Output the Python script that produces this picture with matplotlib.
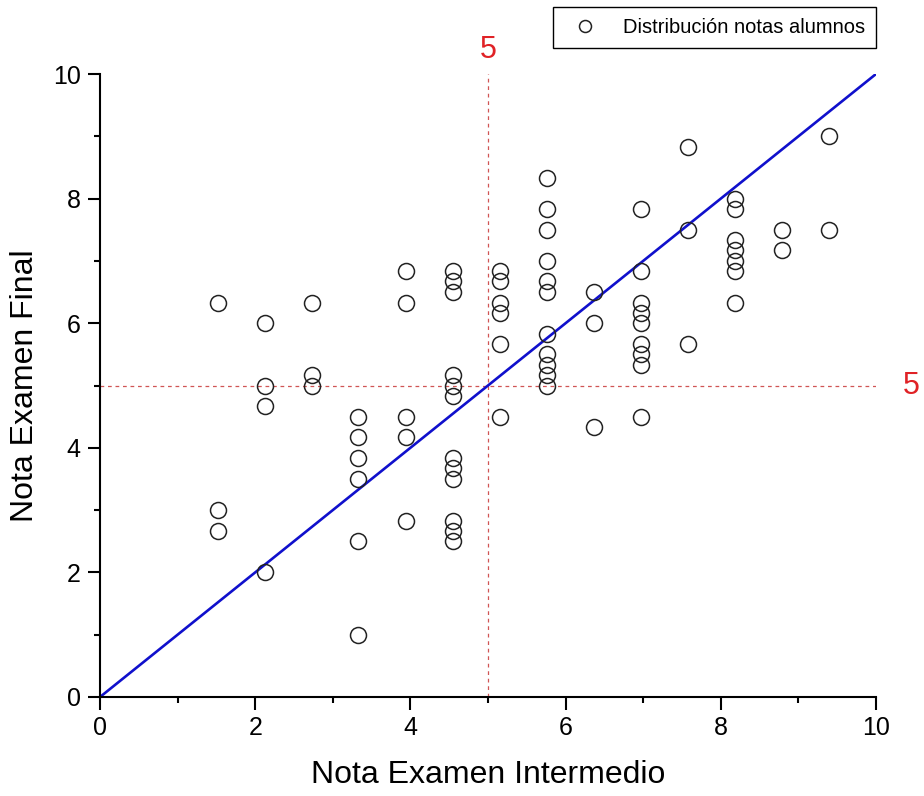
import matplotlib
matplotlib.use("Agg")
import matplotlib.pyplot as plt
from matplotlib.ticker import MultipleLocator

plt.rcParams['font.family'] = ['Liberation Sans', 'DejaVu Sans']

# notas examen intermedio (columnas) y notas finales de cada alumno
col_x = [1.52, 2.12, 2.73, 3.33, 3.94, 4.55, 5.15, 5.76, 6.36, 6.97, 7.58, 8.18, 8.79, 9.39]
col_y = [
    [6.33, 3.0, 2.67],
    [6.0, 5.0, 4.67, 2.0],
    [6.33, 5.17, 5.0],
    [4.5, 4.17, 3.83, 3.5, 2.5, 1.0],
    [6.83, 6.33, 4.5, 4.17, 2.83],
    [6.83, 6.67, 6.5, 5.17, 5.0, 4.83, 3.83, 3.67, 3.5, 2.83, 2.67, 2.5],
    [6.83, 6.67, 6.33, 6.17, 5.67, 4.5],
    [8.33, 7.83, 7.5, 7.0, 6.67, 6.5, 5.83, 5.5, 5.33, 5.17, 5.0],
    [6.5, 6.0, 4.33],
    [7.83, 6.83, 6.33, 6.17, 6.0, 5.67, 5.5, 5.33, 4.5],
    [8.83, 7.5, 5.67],
    [8.0, 7.83, 7.33, 7.17, 7.0, 6.83, 6.33],
    [7.5, 7.17],
    [9.0, 7.5],
]
nota_corte = 5
diag = [0, 10]

xs = []
ys = []
for cx, cy in zip(col_x, col_y):
    for v in cy:
        xs.append(cx)
        ys.append(v)

fig = plt.figure(figsize=(9.24, 7.96), dpi=100)
ax = fig.add_axes([100/924, 1-697/796, 776/924, 623/796])

ax.plot(diag, diag, color='#1010cc', lw=1.9, zorder=2)
ax.axvline(nota_corte, color='#d05555', lw=0.9, ls=(0, (3, 3)), zorder=1)
ax.axhline(nota_corte, color='#d05555', lw=0.9, ls=(0, (3, 3)), zorder=1)
ax.plot(xs, ys, 'o', ms=11.5, mfc='none', mec='#222222', mew=1.1,
        label='Distribución notas alumnos', zorder=3, clip_on=False)

ax.set_xlim(0, 10)
ax.set_ylim(0, 10)
ax.xaxis.set_major_locator(MultipleLocator(2))
ax.xaxis.set_minor_locator(MultipleLocator(1))
ax.yaxis.set_major_locator(MultipleLocator(2))
ax.yaxis.set_minor_locator(MultipleLocator(1))
ax.tick_params(which='major', direction='out', length=9, width=1.5, labelsize=18, pad=5)
ax.tick_params(which='minor', direction='out', length=4.5, width=1.5)
for s in ['top', 'right']:
    ax.spines[s].set_visible(False)
for s in ['left', 'bottom']:
    ax.spines[s].set_linewidth(1.5)

ax.set_xlabel('Nota Examen Intermedio', fontsize=23, labelpad=14)
ax.set_ylabel('Nota Examen Final', fontsize=23, labelpad=9)

ax.text(nota_corte, 10.15, '5', color='#e02226', fontsize=22, ha='center', va='bottom')
ax.text(10.35, nota_corte, '5', color='#e02226', fontsize=22, ha='left', va='center')

fig.legend(loc='upper right', bbox_to_anchor=(876/924, 1-7/796), fontsize=14.5,
           frameon=True, fancybox=False, edgecolor='black', framealpha=1,
           borderaxespad=0, handletextpad=0.9, borderpad=0.55, markerscale=0.75)

fig.savefig('out.png', dpi=100)
